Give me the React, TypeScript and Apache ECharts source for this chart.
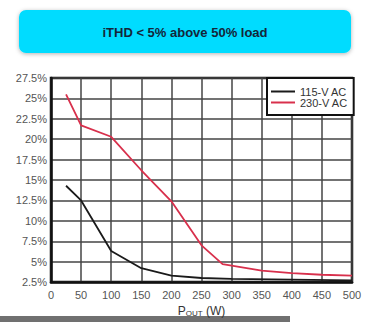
import React, { useEffect, useRef } from "react";
import * as echarts from "echarts";

const titleText = "iTHD < 5% above 50% load";
const seriesNames = ["115-V AC", "230-V AC"];
const xTicks = [0, 50, 100, 150, 200, 250, 300, 350, 400, 450, 500];
const yMin = 2.5;
const yMax = 27.5;
const yStep = 2.5;
const low115: [number, number][] = [
  [25, 14.3], [50, 12.5], [100, 6.3], [150, 4.2], [200, 3.3], [250, 3.0], [300, 2.9], [400, 2.8], [500, 2.7],
];
const high230: [number, number][] = [
  [25, 25.5], [50, 21.7], [100, 20.3], [150, 16.2], [200, 12.4], [250, 7.0], [285, 4.7], [350, 3.9], [400, 3.6], [450, 3.4], [500, 3.3],
];

export default function App() {
  const ref = useRef<HTMLDivElement>(null);
  useEffect(() => {
    const el = ref.current!;
    const chart = echarts.init(el, null, { renderer: "svg" });
    chart.setOption({
      animation: false,
      backgroundColor: "#fff",
      grid: {
        left: 51, top: 78, right: 35, bottom: 31,
        show: true, borderColor: "#111", borderWidth: 2.5, backgroundColor: "transparent",
      },
      graphic: [
        {
          type: "rect", left: 19, top: 10, z: 10,
          shape: { width: 332, height: 43, r: 7 },
          style: { fill: "#00dcff", shadowBlur: 4, shadowColor: "rgba(0,0,0,0.3)", shadowOffsetY: 1 },
        },
        {
          type: "text", x: 185, y: 32, z: 11,
          style: {
            text: titleText, align: "center", verticalAlign: "middle",
            font: "bold 13px 'Liberation Sans', Arial, sans-serif", fill: "#14263a",
          },
        },
        {
          type: "rect", left: 0, top: 316, z: -1,
          shape: { width: 290, height: 6 },
          style: { fill: "#707070" },
        },
      ],
      legend: {
        left: 267, top: 78, orient: "vertical",
        backgroundColor: "#fff", borderColor: "#111", borderWidth: 2, borderRadius: 0,
        padding: [8, 6, 7, 4], itemGap: 0, itemWidth: 24, itemHeight: 2, icon: "rect",
        textStyle: {
          fontSize: 11, lineHeight: 11, color: "#333",
          fontFamily: "'Liberation Sans', Arial, sans-serif",
        },
        data: seriesNames,
      },
      xAxis: {
        type: "value", min: xTicks[0], max: xTicks[xTicks.length - 1], interval: 50,
        axisLine: { show: true, lineStyle: { color: "#111", width: 2.5 } },
        axisTick: { show: false },
        splitLine: { show: true, lineStyle: { color: "#444", width: 1.5 } },
        axisLabel: { color: "#555", fontSize: 11, margin: 7, fontFamily: "'Liberation Sans', Arial, sans-serif" },
        name: "{p|P}{s|OUT} (W)", nameLocation: "middle", nameGap: 22,
        nameTextStyle: {
          color: "#333", fontSize: 12, fontFamily: "'Liberation Sans', Arial, sans-serif",
          rich: { p: { fontSize: 12, color: "#333" }, s: { fontSize: 8, color: "#333", verticalAlign: "bottom" } },
        },
      },
      yAxis: {
        type: "value", min: yMin, max: yMax, interval: yStep,
        axisLine: { show: true, lineStyle: { color: "#111", width: 2.5 } },
        axisTick: { show: false },
        splitLine: { show: true, lineStyle: { color: "#444", width: 1.5 } },
        axisLabel: {
          color: "#555", fontSize: 11, margin: 4, fontFamily: "'Liberation Sans', Arial, sans-serif",
          formatter: (v: number) => `${Math.round(v * 10) / 10}%`,
        },
      },
      series: [
        {
          name: seriesNames[0], type: "line", data: low115, symbol: "none",
          lineStyle: { color: "#1a1a1a", width: 1.8 }, itemStyle: { color: "#1a1a1a" },
        },
        {
          name: seriesNames[1], type: "line", data: high230, symbol: "none",
          lineStyle: { color: "#d8304c", width: 1.8 }, itemStyle: { color: "#d8304c" },
        },
      ],
    });
    return () => chart.dispose();
  }, []);
  return <div ref={ref} style={{ width: 387, height: 322, position: "absolute", left: 0, top: 0 }} />;
}
